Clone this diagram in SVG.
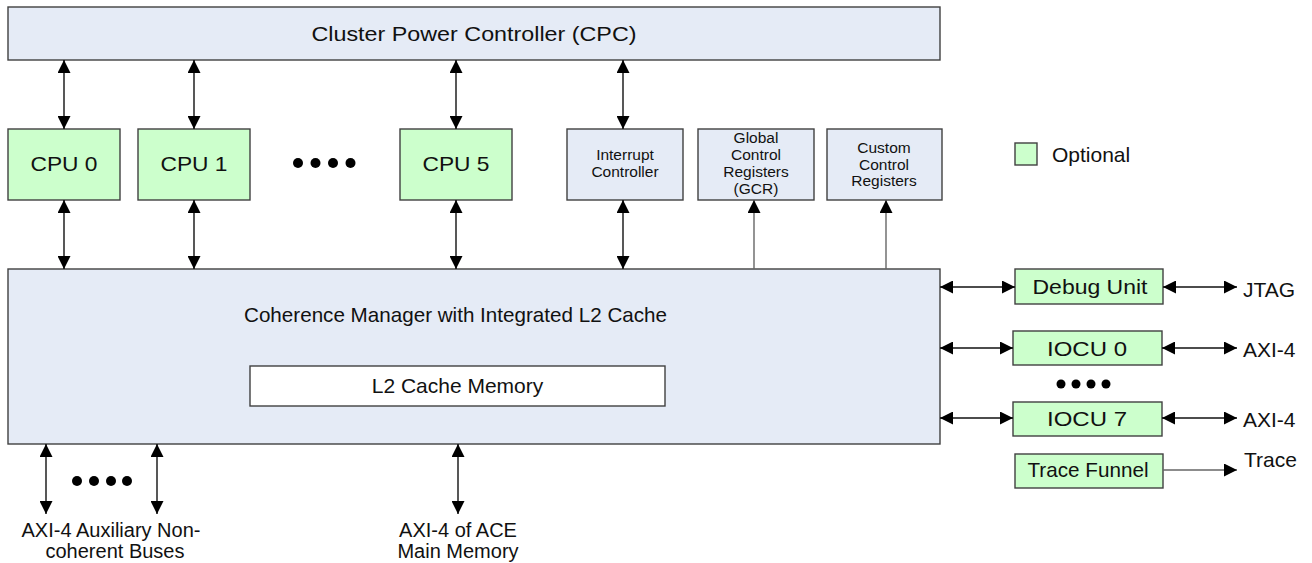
<svg xmlns="http://www.w3.org/2000/svg" width="1312" height="563" viewBox="0 0 1312 563">
<style>
text{font-family:"Liberation Sans",Arial,sans-serif;fill:#111;}
.big{font-size:21px;}
.lab{font-size:20px;}
.sm{font-size:15.5px;}
.mid{text-anchor:middle;}
.blue{fill:#E5EBF6;stroke:#404040;stroke-width:1.4;}
.green{fill:#CCFFCC;stroke:#404040;stroke-width:1.4;}
.white{fill:#FFFFFF;stroke:#404040;stroke-width:1.4;}
.bi{stroke:#111;stroke-width:1.4;fill:none;marker-start:url(#ah);marker-end:url(#ah);}
.one{stroke:#666;stroke-width:1.4;fill:none;marker-end:url(#ah);}
</style>
<defs>
<marker id="ah" viewBox="0 0 13 13" refX="13" refY="6.5" markerWidth="13" markerHeight="13" markerUnits="userSpaceOnUse" orient="auto-start-reverse">
<path d="M0,0 L13,6.5 L0,13 Z" fill="#000"/>
</marker>
</defs>
<rect width="1312" height="563" fill="#fff"/>
<g id="cpc"><rect class="blue" x="8" y="7" width="932" height="53"/><text class="big mid" x="474" y="41" textLength="325" lengthAdjust="spacingAndGlyphs">Cluster Power Controller (CPC)</text></g>
<g id="cpu0"><rect class="green" x="8" y="129" width="112" height="71"/><text class="big mid" x="64" y="171" textLength="67" lengthAdjust="spacingAndGlyphs">CPU 0</text></g>
<g id="cpu1"><rect class="green" x="138" y="129" width="112" height="71"/><text class="big mid" x="194" y="171" textLength="67" lengthAdjust="spacingAndGlyphs">CPU 1</text></g>
<g id="cpu-dots" fill="#000"><circle cx="298" cy="163" r="5"/><circle cx="315.5" cy="163" r="5"/><circle cx="333" cy="163" r="5"/><circle cx="350.5" cy="163" r="5"/></g>
<g id="cpu5"><rect class="green" x="400" y="129" width="112" height="71"/><text class="big mid" x="456" y="171" textLength="67" lengthAdjust="spacingAndGlyphs">CPU 5</text></g>
<g id="intc"><rect class="blue" x="567" y="129" width="116" height="71"/><text class="sm mid" x="625" y="160">Interrupt</text><text class="sm mid" x="625" y="177">Controller</text></g>
<g id="gcr"><rect class="blue" x="698" y="129" width="116" height="71"/><text class="sm mid" x="756" y="143">Global</text><text class="sm mid" x="756" y="160">Control</text><text class="sm mid" x="756" y="177">Registers</text><text class="sm mid" x="756" y="194">(GCR)</text></g>
<g id="ccr"><rect class="blue" x="827" y="129" width="115" height="71"/><text class="sm mid" x="884" y="153">Custom</text><text class="sm mid" x="884" y="169.5">Control</text><text class="sm mid" x="884" y="186">Registers</text></g>
<g id="legend"><rect class="green" x="1015" y="143" width="22" height="22"/><text class="big" x="1052" y="162">Optional</text></g>
<g id="cm"><rect class="blue" x="8" y="269" width="932" height="175"/><text class="big mid" x="455.5" y="322" textLength="423" lengthAdjust="spacingAndGlyphs">Coherence Manager with Integrated L2 Cache</text></g>
<g id="l2"><rect class="white" x="250" y="366" width="415" height="40"/><text class="big mid" x="457.5" y="393">L2 Cache Memory</text></g>
<g id="debug"><rect class="green" x="1015" y="269" width="148" height="35"/><text class="big mid" x="1090" y="294" textLength="115" lengthAdjust="spacingAndGlyphs">Debug Unit</text></g>
<g id="iocu0"><rect class="green" x="1013" y="331" width="149" height="34"/><text class="big mid" x="1087" y="356" textLength="80" lengthAdjust="spacingAndGlyphs">IOCU 0</text></g>
<g id="iocu-dots" fill="#000"><circle cx="1061" cy="384" r="4.5"/><circle cx="1076" cy="384" r="4.5"/><circle cx="1091" cy="384" r="4.5"/><circle cx="1106" cy="384" r="4.5"/></g>
<g id="iocu7"><rect class="green" x="1013" y="402" width="149" height="34"/><text class="big mid" x="1087" y="426" textLength="80" lengthAdjust="spacingAndGlyphs">IOCU 7</text></g>
<g id="trace"><rect class="green" x="1015" y="454" width="148" height="34"/><text class="big mid" x="1088" y="477" textLength="121" lengthAdjust="spacingAndGlyphs">Trace Funnel</text></g>
<g id="labels">
<text class="big" x="1243" y="297">JTAG</text>
<text class="big" x="1243" y="357">AXI-4</text>
<text class="big" x="1243" y="427">AXI-4</text>
<text class="big" x="1244" y="467">Trace</text>
<text class="lab mid" x="111" y="537">AXI-4 Auxiliary Non-</text>
<text class="lab mid" x="115" y="558">coherent Buses</text>
<text class="lab mid" x="458" y="537">AXI-4 of ACE</text>
<text class="lab mid" x="458" y="558">Main Memory</text>
</g>
<g id="bus-dots" fill="#000"><circle cx="77" cy="481" r="5"/><circle cx="94" cy="481" r="5"/><circle cx="111" cy="481" r="5"/><circle cx="127" cy="481" r="5"/></g>
<g id="connectors">
<line class="bi" x1="64" y1="60" x2="64" y2="129"/>
<line class="bi" x1="194" y1="60" x2="194" y2="129"/>
<line class="bi" x1="456" y1="60" x2="456" y2="129"/>
<line class="bi" x1="623" y1="60" x2="623" y2="129"/>
<line class="bi" x1="64" y1="200" x2="64" y2="269"/>
<line class="bi" x1="194" y1="200" x2="194" y2="269"/>
<line class="bi" x1="456" y1="200" x2="456" y2="269"/>
<line class="bi" x1="623" y1="200" x2="623" y2="269"/>
<line class="one" x1="754" y1="269" x2="754" y2="200"/>
<line class="one" x1="886" y1="269" x2="886" y2="200"/>
<line class="bi" x1="46" y1="444" x2="46" y2="514"/>
<line class="bi" x1="157" y1="444" x2="157" y2="514"/>
<line class="bi" x1="458" y1="444" x2="458" y2="514"/>
<line class="bi" x1="940" y1="287" x2="1015" y2="287"/>
<line class="bi" x1="1163" y1="287" x2="1237" y2="287"/>
<line class="bi" x1="940" y1="348" x2="1013" y2="348"/>
<line class="bi" x1="1162" y1="348" x2="1237" y2="348"/>
<line class="bi" x1="940" y1="418" x2="1013" y2="418"/>
<line class="bi" x1="1162" y1="418" x2="1237" y2="418"/>
<line class="one" x1="1163" y1="470" x2="1237" y2="470"/>
</g>
</svg>
